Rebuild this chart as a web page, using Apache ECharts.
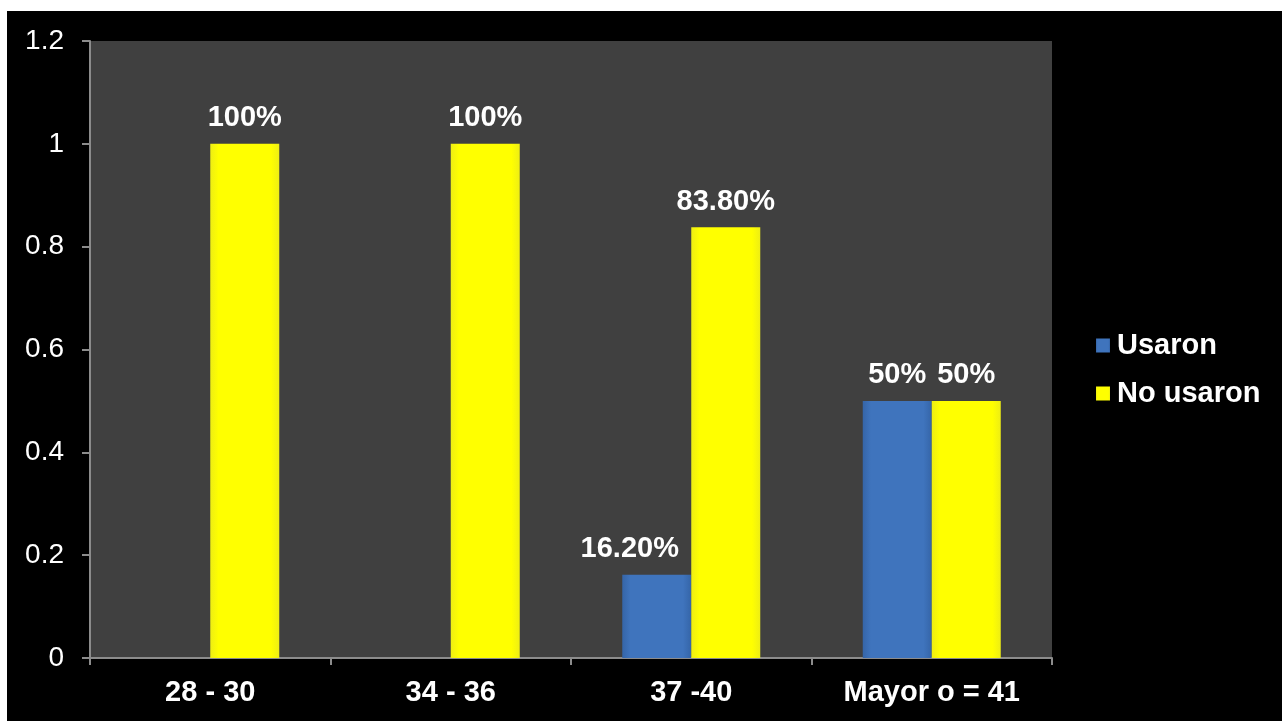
<!DOCTYPE html>
<html>
<head>
<meta charset="utf-8">
<script src="https://cdn.jsdelivr.net/npm/echarts@6/dist/echarts.min.js"></script>
<style>
html,body{margin:0;padding:0;background:#fff;}
#c{width:1282px;height:721px;}
</style>
</head>
<body>
<div id="c"></div>
<script>
const categories = ['28 - 30', '34 - 36', '37 -40', 'Mayor o = 41'];
const usaronValues = [0, 0, 0.162, 0.5];
const noUsaronValues = [1, 1, 0.838, 0.5];
const usaronLabels = ['', '', '16.20%', '50%'];
const noUsaronLabels = ['100%', '100%', '83.80%', '50%'];
const usaronLabelShift = [0, 0, -27, 0];
const yTicks = [0, 0.2, 0.4, 0.6, 0.8, 1, 1.2];

const chart = echarts.init(document.getElementById('c'), null, {renderer: 'canvas'});
const font = '"Liberation Sans", Arial, sans-serif';

function mkSeries(name, values, labels, shifts, color, border) {
  return {
    name: name,
    type: 'bar',
    barWidth: 69,
    barGap: '0%',
    data: values.map((v, i) => ({value: v, label: {formatter: labels[i], offset: [shifts ? shifts[i] : 0, 0]}})),
    itemStyle: {
      color: {
        type: 'linear', x: 0, y: 0, x2: 1, y2: 0,
        colorStops: [
          {offset: 0, color: border},
          {offset: 0.12, color: color},
          {offset: 0.88, color: color},
          {offset: 1, color: border}
        ]
      }
    },
    label: {
      show: true,
      position: 'top',
      distance: 11,
      color: '#fff',
      fontFamily: font,
      fontWeight: 'bold',
      fontSize: 29
    }
  };
}

chart.setOption({
  backgroundColor: '#000',
  animation: false,
  graphic: [
    {type: 'rect', shape: {x: 0, y: 0, width: 1282, height: 11}, style: {fill: '#fff'}, z: 100},
    {type: 'rect', shape: {x: 0, y: 0, width: 7, height: 721}, style: {fill: '#fff'}, z: 100}
  ],
  grid: {
    left: 90, right: 230, top: 41, bottom: 63,
    show: true, backgroundColor: '#404040', borderWidth: 0,
    containLabel: false
  },
  legend: {
    orient: 'vertical',
    left: 1096,
    top: 331,
    itemWidth: 14,
    itemHeight: 14,
    itemGap: 19,
    icon: 'rect',
    padding: 0,
    data: ['Usaron', 'No usaron'],
    textStyle: {color: '#fff', fontFamily: font, fontWeight: 'bold', fontSize: 29, padding: [0, 0, 0, 2]}
  },
  xAxis: {
    type: 'category',
    data: categories,
    axisLine: {lineStyle: {color: '#8c8c8c', width: 2}},
    axisTick: {show: true, length: 7, lineStyle: {color: '#8c8c8c', width: 2}},
    axisLabel: {color: '#fff', fontFamily: font, fontWeight: 'bold', fontSize: 29, margin: 20}
  },
  yAxis: {
    type: 'value',
    min: 0, max: 1.2, interval: 0.2,
    splitLine: {show: false},
    axisLine: {show: true, lineStyle: {color: '#8c8c8c', width: 2}},
    axisTick: {show: true, length: 8, lineStyle: {color: '#8c8c8c', width: 2}},
    axisLabel: {
      color: '#fff', fontFamily: font, fontSize: 28, margin: 26,
      formatter: v => {
        const t = yTicks.find(x => Math.abs(x - v) < 1e-9);
        return String(t !== undefined ? t : v);
      }
    }
  },
  series: [
    mkSeries('Usaron', usaronValues, usaronLabels, usaronLabelShift, '#3f74bd', '#3565a8'),
    mkSeries('No usaron', noUsaronValues, noUsaronLabels, null, '#ffff00', '#eeee14')
  ]
});
</script>
</body>
</html>
